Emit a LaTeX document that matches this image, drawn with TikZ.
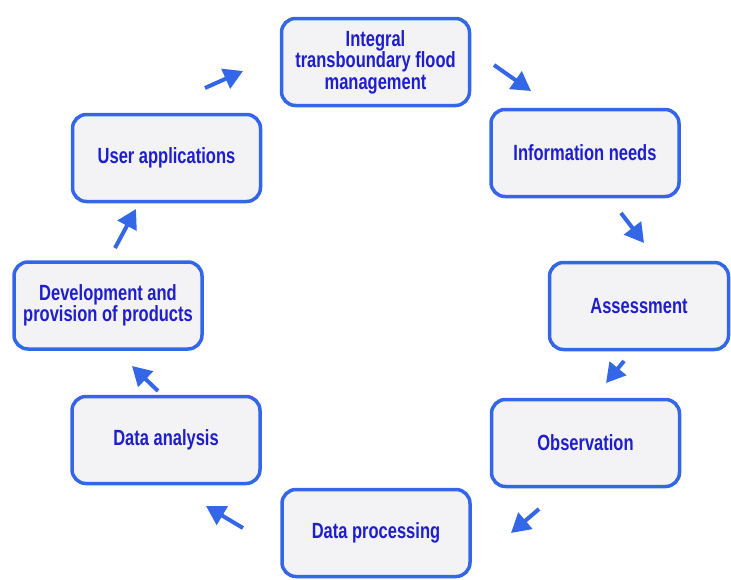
\documentclass[tikz,border=0pt]{standalone}
\usepackage{fontspec}
\setmainfont{Liberation Sans}
\newfontfamily\labelfont{Liberation Sans}[FakeStretch=0.75]
\usetikzlibrary{arrows.meta}

\definecolor{boxline}{RGB}{52,102,232}
\definecolor{boxfill}{RGB}{243,243,246}
\definecolor{boxtext}{RGB}{30,30,205}

\tikzset{
  stage/.style={draw=boxline, fill=boxfill, line width=3.5pt,
    rounded corners=14pt, minimum width=188pt, minimum height=87pt,
    align=center, text=boxtext, inner sep=2pt,
    font=\labelfont\bfseries\fontsize{22}{21.5}\selectfont},
  flow/.style={draw=boxline, line width=4pt,
    -{Triangle[length=19pt,width=21pt]}}
}

\begin{document}
\begin{tikzpicture}[x=1pt,y=-1pt]
  \path[use as bounding box] (0,0) rectangle (731,579);

  % the eight stages of the cycle
  \node[stage] (itfm) at (375.5,62) {Integral\\transboundary flood\\management};
  \node[stage] (info) at (585,153) {Information needs};
  \node[stage, minimum width=179pt] (assess) at (639,306) {Assessment};
  \node[stage] (obs) at (585.5,443) {Observation};
  \node[stage] (proc) at (376,533) {Data processing};
  \node[stage] (anal) at (166,440) {Data analysis};
  \node[stage] (dev) at (108,305.5) {Development and\\provision of products};
  \node[stage] (user) at (166.5,158) {User applications};

  % end points of the short flow arrows between stages
  \coordinate (a1s) at (205,88);  \coordinate (a1e) at (243,71);
  \coordinate (a2s) at (494,65);  \coordinate (a2e) at (531,91);
  \coordinate (a3s) at (621,213); \coordinate (a3e) at (644,243);
  \coordinate (a4s) at (624,361); \coordinate (a4e) at (606,383);
  \coordinate (a5s) at (539,509); \coordinate (a5e) at (511,533);
  \coordinate (a6s) at (243,528); \coordinate (a6e) at (206,506);
  \coordinate (a7s) at (158,391); \coordinate (a7e) at (132,366);
  \coordinate (a8s) at (115,248); \coordinate (a8e) at (136,209);

  \draw[flow] (a1s) -- (a1e);
  \draw[flow] (a2s) -- (a2e);
  \draw[flow] (a3s) -- (a3e);
  \draw[flow] (a4s) -- (a4e);
  \draw[flow] (a5s) -- (a5e);
  \draw[flow] (a6s) -- (a6e);
  \draw[flow] (a7s) -- (a7e);
  \draw[flow] (a8s) -- (a8e);
\end{tikzpicture}
\end{document}
